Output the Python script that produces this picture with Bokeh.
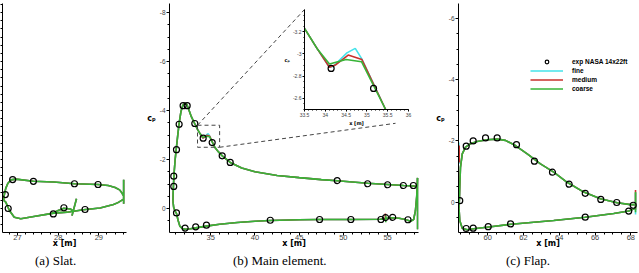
from bokeh.plotting import figure
from bokeh.models import (Range1d, SingleIntervalTicker, FixedTicker, Legend, LegendItem, GridBox,
                          CustomJSTickFormatter, Div)
from bokeh.embed import file_html
from bokeh.resources import INLINE

# ------------------------------------------------------------------ data
# (a) slat  -- x [m], Cp
SLAT_UP_X = [26.66, 26.67, 26.71, 26.76, 26.84, 26.96, 27.39, 27.89, 28.40, 28.98, 29.23, 29.40, 29.51, 29.57, 29.60]
SLAT_UP_CP = [-0.33, -0.53, -0.82, -1.02, -1.17, -1.20, -1.11, -1.08, -1.01, -0.98, -0.94, -0.86, -0.76, -0.63, -0.53]
SLAT_LO_X = [29.60, 29.47, 29.36, 29.03, 28.62, 28.38, 28.22, 27.89, 27.40, 27.08, 26.92, 26.80, 26.71, 26.66]
SLAT_LO_CP = [-0.37, -0.24, -0.16, -0.02, 0.05, 0.11, 0.15, 0.19, 0.33, 0.42, 0.36, 0.08, -0.26, -0.33]
SLAT_COVE_X = [27.85, 28.00, 28.14, 28.30, 28.38]
SLAT_COVE_CP = [0.20, 0.08, -0.01, 0.02, 0.12]
SLAT_SPIKE_X = [28.34, 28.45]
SLAT_SPIKE_CP = [0.29, -0.40]
SLAT_TE_X = [29.61, 29.61]
SLAT_TE_CP = [-1.17, -0.19]
SLAT_EXP_X = [26.88, 27.39, 28.40, 28.98, 26.70, 26.77, 27.88, 28.14, 28.66]
SLAT_EXP_CP = [-1.18, -1.11, -1.01, -0.98, -0.57, 0.00, 0.22, -0.03, 0.04]

# (b) main element
MAIN_UP_LE_X = [30.72, 30.74, 30.78, 30.84, 30.97, 31.10, 31.28, 31.43, 31.62, 31.82, 32.05, 32.30, 32.55, 32.80, 33.20, 33.50, 33.80]
MAIN_UP_LE_CP = [-0.30, -0.60, -0.95, -1.40, -2.00, -2.45, -3.05, -3.50, -3.95, -4.20, -4.30, -4.25, -4.00, -3.75, -3.45, -3.23, -3.05]
BUMP_COARSE_X = [34.10, 34.50, 34.87]
BUMP_COARSE_CP = [-2.91, -2.95, -2.93]
BUMP_MEDIUM_X = [34.10, 34.24, 34.55, 34.88]
BUMP_MEDIUM_CP = [-2.88, -2.90, -2.99, -2.95]
BUMP_FINE_X = [34.10, 34.20, 34.52, 34.72, 34.87]
BUMP_FINE_CP = [-2.88, -2.89, -3.01, -3.05, -2.96]
MAIN_UP_TE_X = [35.45, 35.90, 36.30, 37.20, 38.50, 40.00, 42.50, 45.00, 47.50, 49.30, 52.75, 55.00, 56.80, 57.90, 58.40]
MAIN_UP_TE_CP = [-2.50, -2.30, -2.15, -1.88, -1.65, -1.50, -1.35, -1.26, -1.18, -1.13, -1.03, -0.98, -0.94, -0.92, -0.90]
MAIN_LO_X = [30.72, 30.80, 30.95, 31.12, 31.30, 31.50, 31.80, 32.10, 32.70, 33.30, 34.50, 36.00, 38.00, 40.00, 41.70,
             45.00, 47.30, 50.80, 54.20, 54.60, 55.00, 55.60, 56.30, 57.00, 57.60, 57.95, 58.15, 58.30, 58.40]
MAIN_LO_CP = [-0.30, -0.05, 0.10, 0.20, 0.48, 0.72, 0.82, 0.85, 0.83, 0.79, 0.72, 0.64, 0.57, 0.52, 0.49,
              0.46, 0.45, 0.45, 0.44, 0.42, 0.40, 0.38, 0.40, 0.45, 0.52, 0.45, 0.10, -0.50, -1.25]
MAIN_TE_X = [58.40, 58.40]
MAIN_TE_CP = [-1.25, 0.85]
MAIN_SPIKE_MEDIUM_X = [54.75, 54.75]
MAIN_SPIKE_MEDIUM_CP = [0.20, 0.50]
MAIN_SPIKE_COARSE_X = [54.80, 54.80]
MAIN_SPIKE_COARSE_CP = [0.30, 0.56]
MAIN_EXP_X = [30.81, 30.81, 31.12, 31.42, 31.87, 32.33, 33.19, 34.14, 35.16, 36.29, 37.20, 49.31, 52.75, 55.01, 56.79, 57.92,
              31.12, 32.10, 33.30, 34.51, 41.73, 47.31, 50.85, 54.25, 54.78, 55.58, 57.31]
MAIN_EXP_CP = [-0.90, -1.32, -2.40, -3.44, -4.20, -4.20, -3.47, -2.87, -2.69, -2.15, -1.88, -1.14, -1.01, -0.97, -0.94, -0.94,
               0.18, 0.80, 0.75, 0.68, 0.48, 0.45, 0.45, 0.45, 0.37, 0.36, 0.46]

# (c) flap
FLAP_UP_X = [58.40, 58.42, 58.44, 58.48, 58.58, 58.76, 59.04, 59.41, 59.97, 60.53, 60.99, 61.55, 62.21, 62.95, 63.69,
             64.44, 65.37, 66.30, 67.23, 67.98, 68.26]
FLAP_UP_CP = [0.20, -0.10, -0.49, -1.14, -1.58, -1.80, -1.91, -1.98, -2.04, -2.06, -2.02, -1.85, -1.58, -1.25, -0.98,
              -0.65, -0.33, -0.11, 0.02, 0.08, 0.08]
FLAP_LO_X = [58.40, 58.44, 58.58, 58.85, 59.22, 60.06, 61.31, 63.69, 65.45, 67.04, 67.88, 68.26]
FLAP_LO_CP = [0.20, 0.60, 0.85, 0.90, 0.87, 0.81, 0.72, 0.60, 0.49, 0.37, 0.29, 0.20]
FLAP_TE_X = [68.26, 68.26]
FLAP_TE_FINE_CP = [-0.30, 0.40]
FLAP_TE_MEDIUM_CP = [-0.40, 0.25]
FLAP_TE_COARSE_CP = [-0.33, 0.33]
FLAP_LE_FINE_X = [58.39, 58.39]
FLAP_LE_FINE_CP = [-1.95, -1.25]
FLAP_LE_MEDIUM_X = [58.41, 58.41]
FLAP_LE_MEDIUM_CP = [-1.85, -1.30]
FLAP_EXP_X = [58.44, 58.80, 59.19, 59.88, 60.53, 61.61, 62.61, 63.62, 64.55, 65.45, 66.32, 67.21, 68.13,
              58.80, 59.19, 60.03, 61.28, 65.45, 67.88]
FLAP_EXP_CP = [-0.05, -1.83, -2.00, -2.10, -2.10, -1.88, -1.34, -0.98, -0.59, -0.29, -0.09, 0.01, 0.10,
               0.86, 0.85, 0.80, 0.71, 0.49, 0.29]

SERIES = ["exp NASA 14x22ft", "fine", "medium", "coarse"]
CAPTIONS = ["(a) Slat.", "(b) Main element.", "(c) Flap."]

# upper surface of main element per grid level
MAIN_UP = {
    "fine": (MAIN_UP_LE_X + BUMP_FINE_X + MAIN_UP_TE_X, MAIN_UP_LE_CP + BUMP_FINE_CP + MAIN_UP_TE_CP),
    "medium": (MAIN_UP_LE_X + BUMP_MEDIUM_X + MAIN_UP_TE_X, MAIN_UP_LE_CP + BUMP_MEDIUM_CP + MAIN_UP_TE_CP),
    "coarse": (MAIN_UP_LE_X + BUMP_COARSE_X + MAIN_UP_TE_X, MAIN_UP_LE_CP + BUMP_COARSE_CP + MAIN_UP_TE_CP),
}

# ------------------------------------------------------------------ style
COL = {"fine": "#45e3ea", "medium": "#c9302c", "coarse": "#37b437"}
LW = 1.6
TICK_FONT = "Liberation Sans"
FMT = CustomJSTickFormatter(code="return String(Math.round(tick*100)/100)")

# layout (page pixels)
H = 273
CAP_H = 20
FIG_H = H - CAP_H
SLAT_W, MAIN_W, FLAP_W = 140, 290, 209
INSET_LEFT, INSET_TOP, INSET_W, INSET_H = 278, 4, 134, 124
MAIN_LEFT = SLAT_W
BOTTOM = 21
MAIN_B = dict(l=29, r=12, t=3, b=BOTTOM)
INSET_B = dict(l=26, r=4, t=5, b=14)

MAIN_XR = (30.33, 58.5)
MAIN_YR = (0.98, -8.37)      # (bottom, top)  -> Cp axis reversed
INSET_XR = (33.5, 36.0)
INSET_YR = (-2.5, -3.4)


def make_fig(width, height, xr, yr, b, xtick, ytick, xfs="7.5px", yfs="6.5px", alabel_fs="8px",
             xlabel="x [m]", ylabel="c\u209a", transparent=False):
    p = figure(width=width, height=height, x_range=Range1d(*xr), y_range=Range1d(*yr),
               output_backend="svg", toolbar_location=None,
               min_border_left=b["l"], min_border_right=b["r"],
               min_border_top=b["t"], min_border_bottom=b["b"])
    p.xgrid.visible = False
    p.ygrid.visible = False
    p.outline_line_color = None
    if transparent:
        p.border_fill_alpha = 0
    else:
        p.border_fill_color = "white"
    p.background_fill_color = "white"
    p.xaxis.ticker = SingleIntervalTicker(interval=xtick[0], num_minor_ticks=xtick[1])
    p.yaxis.ticker = SingleIntervalTicker(interval=ytick[0], num_minor_ticks=ytick[1])
    for ax, fs in ((p.xaxis, xfs), (p.yaxis, yfs)):
        ax.formatter = FMT
        ax.axis_line_color = "black"
        ax.axis_line_width = 1
        ax.major_tick_in = 0
        ax.minor_tick_in = 0
        ax.major_tick_out = 3
        ax.minor_tick_out = 2
        ax.major_tick_line_color = "black"
        ax.minor_tick_line_color = "black"
        ax.major_label_text_font = TICK_FONT
        ax.major_label_text_font_size = fs
        ax.major_label_text_color = "#444444"
        ax.major_label_standoff = 1
        ax.axis_label_text_font = "DejaVu Sans"
        ax.axis_label_text_font_style = "bold"
        ax.axis_label_text_font_size = alabel_fs
        ax.axis_label_text_color = "black"
        ax.axis_label_standoff = 1
    p.xaxis.major_label_standoff = -1
    p.xaxis.axis_label_standoff = -4
    p.xaxis.axis_label = xlabel
    p.yaxis.axis_label = ylabel
    p.yaxis.axis_label_orientation = "horizontal"
    return p


def caption(text, width, indent):
    return Div(text=text, width=width, height=CAP_H, margin=0,
               styles={"font-family": "Liberation Serif", "font-size": "13px", "color": "black",
                       "text-indent": f"{indent}px", "line-height": "16px", "white-space": "nowrap"})


def exp(p, xs, ys, size=6):
    return p.scatter(xs, ys, marker="circle", size=size, fill_color=None,
                     line_color="black", line_width=1.2)


# ------------------------------------------------------------------ (a) slat
slat = make_fig(SLAT_W, FIG_H, (26.63, 29.68), MAIN_YR, dict(l=0, r=14, t=3, b=BOTTOM), (1, 5), (1, 3))
# the slat's Cp labels lie outside the cropped panel: only its tick marks remain
slat.yaxis.ticker = FixedTicker(ticks=[], minor_ticks=[i / 3 for i in range(-25, 3)])
slat.yaxis.axis_label = None
slat.yaxis.minor_tick_out = 2
for lvl in ("fine", "medium", "coarse"):
    for xs, ys in ((SLAT_UP_X, SLAT_UP_CP), (SLAT_LO_X, SLAT_LO_CP), (SLAT_COVE_X, SLAT_COVE_CP),
                   (SLAT_SPIKE_X, SLAT_SPIKE_CP), (SLAT_TE_X, SLAT_TE_CP)):
        slat.line(xs, ys, line_color=COL[lvl], line_width=LW)
exp(slat, SLAT_EXP_X, SLAT_EXP_CP)

# ------------------------------------------------------------------ (b) main
main = make_fig(MAIN_W, FIG_H, MAIN_XR, MAIN_YR, MAIN_B, (5, 5), (2, 4))
for lvl in ("fine", "medium", "coarse"):
    main.line(*MAIN_UP[lvl], line_color=COL[lvl], line_width=LW)
    main.line(MAIN_LO_X, MAIN_LO_CP, line_color=COL[lvl], line_width=LW)
    main.line(MAIN_TE_X, MAIN_TE_CP, line_color=COL[lvl], line_width=LW)
main.line(MAIN_SPIKE_MEDIUM_X, MAIN_SPIKE_MEDIUM_CP, line_color=COL["medium"], line_width=LW)
main.line(MAIN_SPIKE_COARSE_X, MAIN_SPIKE_COARSE_CP, line_color=COL["coarse"], line_width=LW)
exp(main, MAIN_EXP_X, MAIN_EXP_CP)

# zoom box (the inset's ranges) and connectors to the inset
main.quad(left=INSET_XR[0], right=INSET_XR[1], top=INSET_YR[1], bottom=INSET_YR[0],
          fill_color=None, line_color="#444444", line_width=1, line_dash="4 3")
m_fl = MAIN_LEFT + MAIN_B["l"]
m_fr = MAIN_LEFT + MAIN_W - MAIN_B["r"]
m_ft = MAIN_B["t"]
m_fb = FIG_H - MAIN_B["b"]


def page_to_main(px, py):
    x = MAIN_XR[0] + (px - m_fl) / (m_fr - m_fl) * (MAIN_XR[1] - MAIN_XR[0])
    y = MAIN_YR[1] + (py - m_ft) / (m_fb - m_ft) * (MAIN_YR[0] - MAIN_YR[1])
    return x, y


in_fl = INSET_LEFT + INSET_B["l"]
in_ft = INSET_TOP + INSET_B["t"]
c1 = page_to_main(in_fl, in_ft)
c2 = page_to_main(395, 122.8)
main.line([INSET_XR[0], c1[0]], [INSET_YR[1], c1[1]], line_color="#444444", line_width=1, line_dash="4 3")
main.line([INSET_XR[1], c2[0]], [INSET_YR[0], c2[1]], line_color="#444444", line_width=1, line_dash="4 3")

# ------------------------------------------------------------------ inset
inset = make_fig(INSET_W, INSET_H, INSET_XR, INSET_YR, INSET_B, (0.5, 5), (0.2, 4),
                 xfs="5px", yfs="5px", alabel_fs="5px", transparent=True)
for ax in (inset.xaxis, inset.yaxis):
    ax.major_tick_out = 2
    ax.minor_tick_out = 1
    ax.axis_label_standoff = 0
    ax.major_label_standoff = 1
for lvl in ("fine", "medium", "coarse"):
    inset.line(*MAIN_UP[lvl], line_color=COL[lvl], line_width=LW)
exp(inset, MAIN_EXP_X, MAIN_EXP_CP, size=6)

# ------------------------------------------------------------------ (c) flap
flap = make_fig(FLAP_W, FIG_H, (58.37, 68.37), (0.99, -6.49), dict(l=28, r=2, t=3, b=BOTTOM), (2, 4), (2, 4))
rend = {}
for lvl in ("fine", "medium", "coarse"):
    rend[lvl] = flap.line(FLAP_UP_X, FLAP_UP_CP, line_color=COL[lvl], line_width=LW)
    flap.line(FLAP_LO_X, FLAP_LO_CP, line_color=COL[lvl], line_width=LW)
flap.line(FLAP_LE_FINE_X, FLAP_LE_FINE_CP, line_color=COL["fine"], line_width=LW)
flap.line(FLAP_LE_MEDIUM_X, FLAP_LE_MEDIUM_CP, line_color=COL["medium"], line_width=LW)
flap.line(FLAP_TE_X, FLAP_TE_FINE_CP, line_color=COL["fine"], line_width=LW)
flap.line(FLAP_TE_X, FLAP_TE_MEDIUM_CP, line_color=COL["medium"], line_width=LW)
flap.line(FLAP_TE_X, FLAP_TE_COARSE_CP, line_color=COL["coarse"], line_width=LW)
r_exp = exp(flap, FLAP_EXP_X, FLAP_EXP_CP)
legend = Legend(items=[LegendItem(label=SERIES[0], renderers=[r_exp]),
                       LegendItem(label=SERIES[1], renderers=[rend["fine"]]),
                       LegendItem(label=SERIES[2], renderers=[rend["medium"]]),
                       LegendItem(label=SERIES[3], renderers=[rend["coarse"]])],
                location=(72, 139), orientation="vertical", glyph_width=33, glyph_height=9,
                label_height=9, spacing=0, padding=0, margin=0, label_standoff=9,
                border_line_color=None, background_fill_alpha=0,
                label_text_font="Liberation Sans", label_text_font_style="bold",
                label_text_font_size="6.5px", label_text_color="black")
flap.add_layout(legend)

# ------------------------------------------------------------------ captions
cap_a = caption(CAPTIONS[0], SLAT_W, 35)
cap_b = caption(CAPTIONS[1], MAIN_W, 93)
cap_c = caption(CAPTIONS[2], FLAP_W, 76)

# ------------------------------------------------------------------ layout
grid = GridBox(children=[(slat, 0, 0, 3, 1), (main, 0, 1, 3, 3), (inset, 1, 2, 1, 1), (flap, 0, 4, 3, 1),
                         (cap_a, 3, 0, 1, 1), (cap_b, 3, 1, 1, 3), (cap_c, 3, 4, 1, 1)],
               rows=[f"{INSET_TOP}px", f"{INSET_H}px", f"{FIG_H - INSET_TOP - INSET_H}px", f"{CAP_H}px"],
               cols=[f"{SLAT_W}px", f"{INSET_LEFT - SLAT_W}px", f"{INSET_W}px",
                     f"{SLAT_W + MAIN_W - INSET_LEFT - INSET_W}px", f"{FLAP_W}px"])

open("out.html", "w").write(file_html(grid, INLINE))
